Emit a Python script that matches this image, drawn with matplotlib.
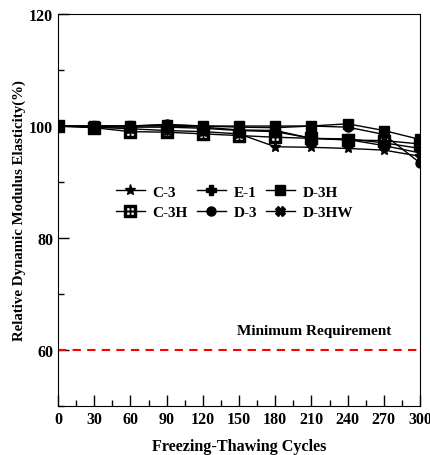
from matplotlib import pyplot as plt
from matplotlib.ticker import MultipleLocator

plt.rcParams['font.family'] = ['Liberation Serif', 'DejaVu Serif']
plt.rcParams['font.weight'] = 'bold'
plt.rcParams['mathtext.default'] = 'regular'

cycles = [0, 30, 60, 90, 120, 150, 180, 210, 240, 270, 300]

c3 = [100, 99.8, 99.5, 99.2, 99.0, 98.6, 96.3, 96.2, 96.0, 95.7, 94.6]
c3h = [100, 99.7, 99.0, 98.9, 98.6, 98.3, 98.0, 97.8, 97.5, 97.4, 96.8]
e1 = [100, 100, 100, 100, 99.8, 99.3, 99.2, 97.8, 97.7, 97.0, 96.0]
d3 = [100, 100, 100, 100.3, 100, 99.8, 99.7, 100, 99.8, 98.5, 93.4]
d3h = [100, 100, 100, 100.2, 100, 100, 100, 100, 100.4, 99.2, 97.6]
d3hw = [100, 99.8, 99.8, 99.8, 99.6, 99.2, 99.0, 97.8, 97.6, 96.5, 95.2]

series = [
    ('C-3', c3, '*', 8),
    ('C-3H', c3h, r'$\boxplus$', 8),
    ('E-1', e1, 'P', 7),
    ('D-3', d3, 'o', 6.5),
    ('D-3H', d3h, 's', 6.5),
    ('D-3HW', d3hw, 'X', 7),
]

fig = plt.figure(figsize=(4.31, 4.56), dpi=100)
ax = fig.add_axes([0.1346, 0.1075, 0.84, 0.8595])

for name, vals, mk, ms in series:
    ax.plot(cycles, vals, color='black', lw=1, marker=mk, markersize=ms,
            markerfacecolor='black', markeredgecolor='black', label=name)

ax.plot([0, 300], [60, 60], color='red', lw=1.5, ls=(0, (4, 3)))
ax.text(212, 62.3, 'Minimum Requirement', ha='center', va='bottom',
        fontsize=11, fontweight='bold')

ax.set_xlim(0, 300)
ax.set_ylim(50, 120)
ax.set_xticks(cycles)
ax.set_yticks([60, 80, 100, 120])
ax.xaxis.set_minor_locator(MultipleLocator(15))
ax.yaxis.set_minor_locator(MultipleLocator(10))
ax.tick_params(which='both', direction='in', labelsize=11.5, width=1)
ax.tick_params(which='major', length=8)
ax.tick_params(which='minor', length=4)
ax.tick_params(top=False, right=False, which='both')
for lab in ax.get_xticklabels() + ax.get_yticklabels():
    lab.set_fontweight('bold')

ax.set_xlabel('Freezing-Thawing Cycles', fontsize=11.6, fontweight='bold', labelpad=8)
ax.set_ylabel('Relative Dynamic Modulus Elasticity(%)', fontsize=10.7,
              fontweight='bold', labelpad=2)

ax.legend(ncol=3, loc='center', bbox_to_anchor=(0.487, 0.52), frameon=False,
          handlelength=1.9, columnspacing=0.6, handletextpad=0.5,
          labelspacing=0.45, prop={'weight': 'bold', 'size': 11})

fig.savefig('out.png', dpi=100)
